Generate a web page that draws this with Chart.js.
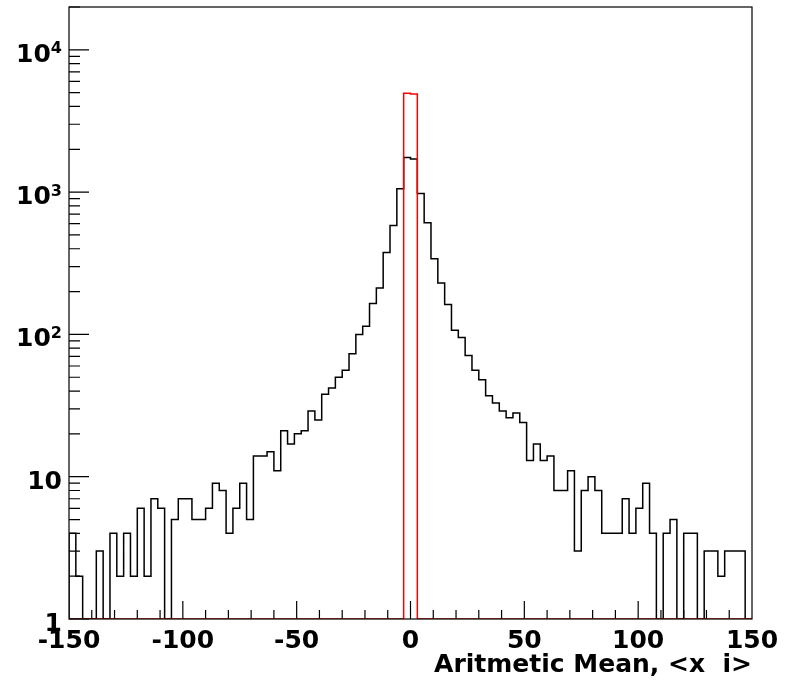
<!DOCTYPE html>
<html>
<head>
<meta charset="utf-8">
<script src="https://cdn.jsdelivr.net/npm/chart.js@4.4.1/dist/chart.umd.min.js"></script>
<style>
  html, body { margin: 0; padding: 0; background: #fff; }
  #wrap { width: 792px; height: 680px; }
</style>
</head>
<body>
<div id="wrap"><canvas id="c"></canvas></div>
<script>
// 100 bins of width 3 between -150 and 150
const X_MIN = -150;
const X_MAX = 150;
const BIN_W = 3;

// all entries (black)
const allCounts = [
  4, 2, 0, 0, 3, 0, 4, 2, 4, 2,
  6, 2, 7, 6, 0, 5, 7, 7, 5, 5,
  6, 9, 8, 4, 6, 9, 5, 14, 14, 15,
  11, 21, 17, 20, 21, 29, 25, 38, 42, 50,
  56, 73, 100, 114, 165, 212, 376, 582, 1055, 1750,
  1710, 979, 610, 340, 230, 162, 107, 95, 71, 56,
  48, 37, 33, 29, 26, 28, 24, 13, 17, 13,
  14, 8, 8, 11, 3, 8, 10, 8, 4, 4,
  4, 7, 4, 6, 9, 4, 0, 4, 5, 0,
  4, 4, 0, 3, 3, 2, 3, 3, 3, 0
];

// selected entries (red), only the two central bins are filled
const selCounts = [
  0, 0, 0, 0, 0, 0, 0, 0, 0, 0,
  0, 0, 0, 0, 0, 0, 0, 0, 0, 0,
  0, 0, 0, 0, 0, 0, 0, 0, 0, 0,
  0, 0, 0, 0, 0, 0, 0, 0, 0, 0,
  0, 0, 0, 0, 0, 0, 0, 0, 0, 4950,
  4900, 0, 0, 0, 0, 0, 0, 0, 0, 0,
  0, 0, 0, 0, 0, 0, 0, 0, 0, 0,
  0, 0, 0, 0, 0, 0, 0, 0, 0, 0,
  0, 0, 0, 0, 0, 0, 0, 0, 0, 0,
  0, 0, 0, 0, 0, 0, 0, 0, 0, 0
];

const xTicks = [-150, -100, -50, 0, 50, 100, 150];
const yDecades = [1, 10, 100, 1000, 10000];
const Y_MIN = 1;
const Y_MAX = 20000;
const xTitle = "Aritmetic Mean, <x  i>";

const FONT = '"DejaVu Sans", Verdana, sans-serif';

// histogram outline: empty bins sit on the floor of the log axis
function histPoints(counts) {
  const pts = [{ x: X_MIN, y: Y_MIN }];
  counts.forEach((c, i) => {
    const y = c > 0 ? c : Y_MIN;
    pts.push({ x: X_MIN + i * BIN_W, y });
    pts.push({ x: X_MIN + (i + 1) * BIN_W, y });
  });
  pts.push({ x: X_MAX, y: Y_MIN });
  return pts;
}

const rootFrame = {
  id: "rootFrame",
  afterDatasetsDraw(chart) {
    const { ctx, chartArea: a, scales } = chart;
    const xs = scales.x, ys = scales.y;
    ctx.save();
    ctx.strokeStyle = "#000";
    ctx.lineWidth = 1.2;

    // y ticks, drawn inwards
    ctx.beginPath();
    yDecades.forEach((d) => {
      for (let m = 1; m <= 9; m++) {
        const v = m * d;
        if (v > Y_MAX) break;
        const y = ys.getPixelForValue(v);
        ctx.moveTo(a.left, y);
        ctx.lineTo(a.left + (m === 1 ? 20 : 11), y);
      }
    });
    // x ticks, every 10, longer every 50
    for (let v = X_MIN + 10; v < X_MAX; v += 10) {
      const x = xs.getPixelForValue(v);
      ctx.moveTo(x, a.bottom);
      ctx.lineTo(x, a.bottom - (v % 50 === 0 ? 18 : 9));
    }
    ctx.stroke();

    // frame
    ctx.strokeRect(a.left, a.top, a.right - a.left, a.bottom - a.top);

    // y labels 1, 10, 10^2 ...
    ctx.fillStyle = "#000";
    ctx.textBaseline = "alphabetic";
    ctx.textAlign = "right";
    const xr = a.left - 7;
    yDecades.forEach((d) => {
      const y = ys.getPixelForValue(d) + 12;
      const e = Math.round(Math.log10(d));
      if (e <= 1) {
        ctx.font = "bold 25px " + FONT;
        ctx.fillText(String(d), xr, y);
      } else {
        ctx.font = "bold 16px " + FONT;
        const sw = ctx.measureText(String(e)).width;
        ctx.fillText(String(e), xr, y - 8.5);
        ctx.font = "bold 25px " + FONT;
        ctx.fillText("10", xr - sw, y);
      }
    });

    // x title
    ctx.font = "bold 25px " + FONT;
    ctx.textAlign = "right";
    ctx.fillText(xTitle, a.right, 672);
    ctx.restore();
  }
};

new Chart(document.getElementById("c"), {
  type: "line",
  data: {
    datasets: [
      {
        data: histPoints(selCounts),
        borderColor: "#ff0000",
        borderWidth: 1.5,
        pointRadius: 0,
        tension: 0,
        fill: false,
        order: 0,
      },
      {
        data: histPoints(allCounts),
        borderColor: "#000000",
        borderWidth: 1.5,
        pointRadius: 0,
        tension: 0,
        fill: false,
        order: 1,
      },
    ],
  },
  options: {
    responsive: true,
    maintainAspectRatio: false,
    animation: false,
    layout: { padding: { left: 0, right: 40, top: 7, bottom: 0 } },
    plugins: { legend: { display: false }, tooltip: { enabled: false } },
    scales: {
      x: {
        type: "linear",
        min: X_MIN,
        max: X_MAX,
        afterBuildTicks: (s) => { s.ticks = xTicks.map((v) => ({ value: v })); },
        afterFit: (s) => { s.height = 61; },
        grid: { display: false, drawTicks: false },
        border: { display: false },
        ticks: {
          color: "#000",
          padding: 7,
          maxRotation: 0,
          autoSkip: false,
          font: { family: FONT, size: 25, weight: "bold" },
        },
      },
      y: {
        type: "logarithmic",
        min: Y_MIN,
        max: Y_MAX,
        afterFit: (s) => { s.width = 69; },
        grid: { display: false, drawTicks: false },
        border: { display: false },
        ticks: { display: false },
      },
    },
  },
  plugins: [rootFrame],
});
</script>
</body>
</html>
